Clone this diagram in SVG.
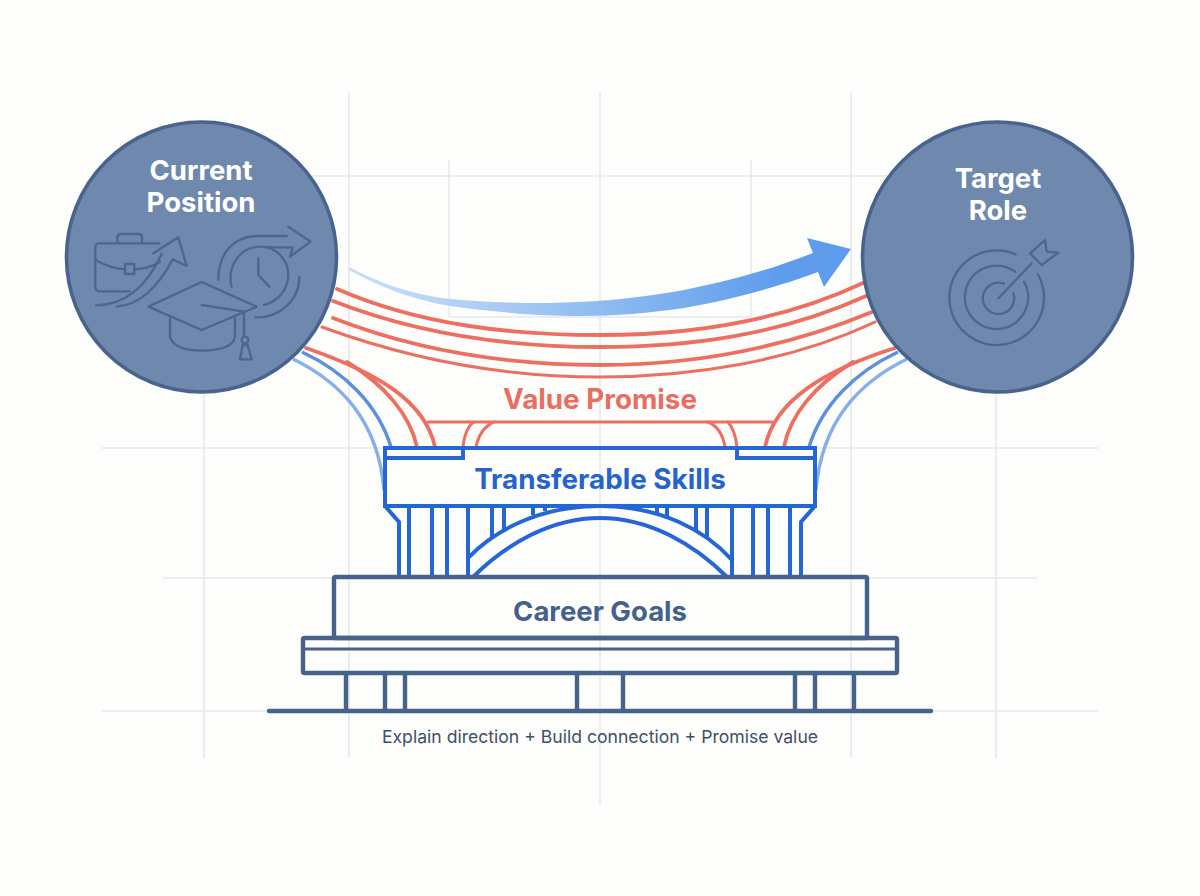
<svg xmlns="http://www.w3.org/2000/svg" width="1200" height="896" viewBox="0 0 1200 896">
<style>
text{font-family:Inter,"Liberation Sans",sans-serif;text-anchor:middle}
.grid{fill:none;stroke:#e8e8eb;stroke-width:1.6}
.gridb{fill:none;stroke:#e3e7f1;stroke-width:1.4}
.red{fill:none;stroke:#ec6f60;stroke-width:3.8;stroke-linecap:round}
.redt{fill:none;stroke:#ec6f60;stroke-width:3;stroke-linecap:round}
.bl{fill:none;stroke:#5b90dc;stroke-width:3.4}
.bll{fill:none;stroke:#88b0e8;stroke-width:3.4}
.deck{fill:none;stroke:#2566d6;stroke-width:4}
.slate{fill:none;stroke:#46638c;stroke-width:4.4;stroke-linecap:round}
.node{fill:#6f89ae;stroke:#48648d;stroke-width:3.6}
.ico{fill:none;stroke:#4b678f;stroke-width:7;stroke-linecap:round;stroke-linejoin:round}
.cap{fill:#fff;font-size:27.500px;font-weight:700}
.lab{font-size:27.800px;font-weight:700}
</style>
<defs>
<linearGradient id="ag" gradientUnits="userSpaceOnUse" x1="349" y1="0" x2="851" y2="0">
<stop offset="0" stop-color="#c9def8"/><stop offset="0.2" stop-color="#b5d2f6"/><stop offset="0.5" stop-color="#8fbcf1"/><stop offset="0.85" stop-color="#5f9dec"/><stop offset="1" stop-color="#5f9dec"/>
</linearGradient>
</defs>
<rect width="1200" height="896" fill="#fdfdfc"/>
<g id="grid">
<path class="grid" d="M600 92V805M349 92V758M851 92V758M204 380V758M996 380V758M102 448H1098M102 711H1098M163 578H1037M300 176H900"/>
<path class="gridb" d="M449 160V317M751 160V317M449 317H751"/>
</g>
<g id="connectors">
<path id="arc1" class="red" d="M337 289C420 325 510 335 600 335C690 335 780 322 863 283"/>
<path id="arc2" class="red" d="M333 301C420 335 510 347 600 347C690 347 780 335 866 296"/>
<path id="arc3" class="red" d="M333 318C420 352 510 365 600 365C690 365 780 350 872 312"/>
<path id="arc4" class="redt" d="M322 327C420 363 510 377 600 377C690 377 790 362 875 322"/>
<path class="red" d="M306 348C375 372 425 400 435 447"/>
<path class="red" d="M347 362C385 385 410 415 417 447"/>
<path class="red" d="M895 348C825 370 775 400 765 447"/>
<path class="red" d="M853 362C815 385 790 415 784 447"/>
<path class="redt" d="M428 422H772"/>
<path class="redt" d="M463 447Q465 428 474 422M476 447Q480 428 494 422M725 447Q722 428 708 422M737 447Q735 430 728 422"/>
<path class="bl" d="M302 352C345 372 378 405 391 447"/>
<path class="bll" d="M293 359C340 382 378 420 384 490"/>
<path class="bl" d="M898 352C855 372 822 405 809 447"/>
<path class="bll" d="M907 359C860 382 822 420 816 490"/>
<path id="arrow" fill="url(#ag)" d="M349 267C380 284 415 295 450 299C480 302 515 303 547 303C600 302 640 298 684 290C725 282 770 270 813 253L807 238L851 249L824 287L818 272C775 288 730 300 684 308C650 313 615 316 581 316C555 316 530 315 512 313C490 311 470 309 450 306C410 299 380 287 349 270Z"/>
</g>
<g id="bridge-piers">
<path class="deck" d="M385 506L399 522V577M815 506L801 522V577M409 506V577M432 506V577M447 506V577M468 506V577M492 506V539M504 506V530M533 506V515M545 506V511M732 506V577M753 506V577M768 506V577M790 506V577M696 506V530M707 506V537M667 506V519M657 506V514"/>
<path class="deck" d="M468 558C495 530 540 506 600 506C660 506 705 530 732 560"/>
<path class="deck" d="M473 577C505 545 550 518 600 518C650 518 695 545 727 577"/>
</g>
<g id="transferable-skills">
<rect x="385" y="448" width="430" height="58" fill="#fff" class="deck"/>
<path class="deck" d="M387 458H463V448M813 458H737V448"/>
<text class="lab" x="600" y="489" fill="#2563d0">Transferable Skills</text>
</g>
<g id="value-promise"><text class="lab" x="600" y="409" fill="#e96d60">Value Promise</text></g>
<g id="foundation">
<path class="slate" d="M346 673V711M385 673V711M405 673V711M577 673V711M623 673V711M795 673V711M815 673V711M854 673V711"/>
<path class="slate" d="M269 711H931"/>
<rect x="303" y="638" width="594" height="35" rx="1.500" fill="#fff" class="slate"/>
<path class="slate" style="stroke-width:3" d="M304 649H896"/>
</g>
<g id="career-goals">
<rect x="334" y="577" width="533" height="61" rx="1.500" fill="#fff" class="slate"/>
<text x="600" y="621" font-size="27.500" font-weight="700" fill="#44618c">Career Goals</text>
</g>
<g id="current-position">
<circle cx="201.500" cy="257" r="135" class="node"/>
<g transform="translate(60 110) scale(.33333)">
<path class="ico" d="M298 400H118Q106 400 106 412V530Q106 544 120 544H210M172 400V382Q172 372 184 372H235Q246 372 246 382V400M106 450Q150 475 195 478M224 478Q270 475 300 455"/>
<rect class="ico" x="195" y="462" width="28" height="30"/>
<path class="ico" d="M108 586C190 585 255 540 305 432M280 430L355 382L380 468L338 448M170 590C240 585 295 530 338 448"/>
<path class="ico" d="M515 530C500 470 540 410 600 410C650 410 685 450 685 495C685 535 655 575 612 585M595 445V495L628 530"/>
<path class="ico" d="M475 510C475 430 520 380 590 378H680M685 350L752 395L690 440L698 412H620M718 500C718 570 660 625 585 622"/>
<path class="ico" d="M265 590L425 516L590 590L425 660ZM425 585L552 605V680M330 625V680Q340 720 425 722Q520 720 525 680V625"/>
<circle class="ico" cx="555" cy="690" r="10"/>
<path class="ico" d="M548 705L540 748H575L563 705Z"/>
</g>
<text class="cap" x="201" y="180">Current</text>
<text class="cap" x="201" y="212">Position</text>
</g>
<g id="target-role">
<circle cx="997.500" cy="257" r="135" class="node"/>
<g transform="translate(850 110) scale(.33333)">
<path class="ico" d="M563 492A142 142 0 1 1 497 433M522 515A95 95 0 1 1 495 485M490 550A47 47 0 1 1 462 521M445 565L545 460M540 430L585 390L590 425L625 428L575 465Z"/>
</g>
<text class="cap" x="998" y="188">Target</text>
<text class="cap" x="998" y="220">Role</text>
</g>
<g id="caption"><text x="600" y="743" font-size="17.600" fill="#3f4f68">Explain direction + Build connection + Promise value</text></g>
</svg>
